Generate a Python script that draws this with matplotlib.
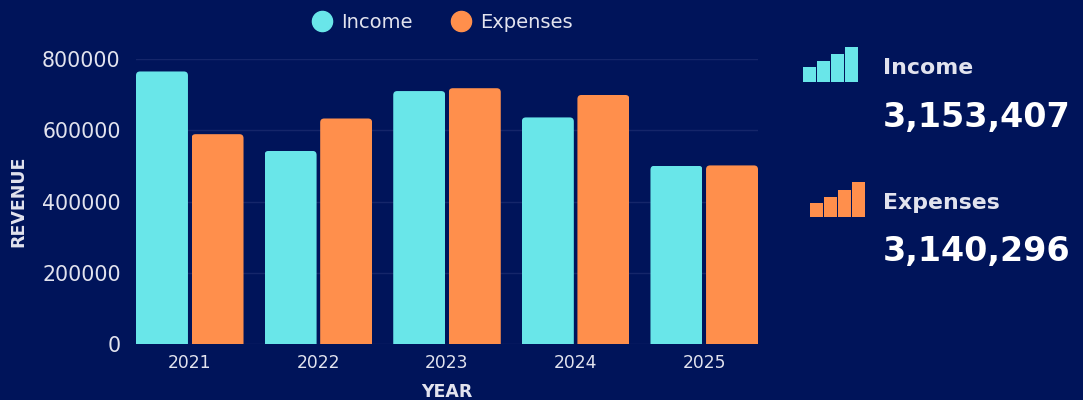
import matplotlib
matplotlib.use("Agg")
import matplotlib.pyplot as plt
from matplotlib.lines import Line2D
from matplotlib.patches import FancyBboxPatch
import numpy as np

years = ["2021", "2022", "2023", "2024", "2025"]
income = [765000, 542000, 710000, 636000, 500407]
expenses = [589000, 633000, 718000, 699000, 501296]
yticks = [0, 200000, 400000, 600000, 800000]
signal_income = [15, 21, 28, 35]
signal_expenses = [14, 20, 27, 35]
total_income = "3,153,407"
total_expenses = "3,140,296"

W, H = 1083, 400
BG = "#00145a"
TEAL = "#69e6e9"
ORANGE = "#ff8f4c"
TXT = "#e2e3ee"


def px_axes(x0, y0, x1, y1):
    # axes box given in pixels from the top left corner
    return fig.add_axes([x0 / W, 1 - y1 / H, (x1 - x0) / W, (y1 - y0) / H])


def round_tops(ax, bars, radius=4):
    # clip the bars with a rounded box, the box runs past the baseline so only the tops are rounded
    for b in bars:
        x0, y0 = ax.transData.transform((b.get_x(), 0))
        x1, y1 = ax.transData.transform((b.get_x() + b.get_width(), b.get_height()))
        box = FancyBboxPatch((x0 + radius, y0 - 20), x1 - x0 - 2 * radius, y1 - y0 + 20 - radius,
                             boxstyle="round,pad=%d,rounding_size=%d" % (radius, radius),
                             transform=None)
        b.set_clip_path(box)


fig = plt.figure(figsize=(W / 100, H / 100), dpi=100, facecolor=BG)
plt.rcParams["font.family"] = "DejaVu Sans"

ax = px_axes(136, 59, 758, 344)
ax.set_facecolor(BG)
x = np.arange(len(years))
bar_w = 0.404
off = 0.216
bars1 = ax.bar(x - off, income, bar_w, color=TEAL, zorder=3, label="Income")
bars2 = ax.bar(x + off, expenses, bar_w, color=ORANGE, zorder=3, label="Expenses")
ax.set_xlim(-off - bar_w / 2, len(years) - 1 + off + bar_w / 2)
ax.set_ylim(0, 800000)
round_tops(ax, bars1)
round_tops(ax, bars2)

ax.set_xticks(x, years)
ax.set_yticks(yticks, [str(v) for v in yticks])
ax.tick_params(axis="x", length=0, pad=7.5, labelsize=12.3, labelcolor=TXT)
ax.tick_params(axis="y", length=0, pad=11, labelsize=14.8, labelcolor=TXT)
ax.grid(axis="y", color="#15266a", linewidth=1, zorder=0)
ax.set_axisbelow(True)
for s in ax.spines.values():
    s.set_visible(False)

fig.text(18 / W, 1 - 201 / H, "REVENUE", rotation=90, color=TXT, fontsize=12.5,
         fontweight="bold", ha="center", va="center")
fig.text(447 / W, 1 - 392 / H, "YEAR", color=TXT, fontsize=12.5, fontweight="bold",
         ha="center", va="center")

handles = [Line2D([], [], marker="o", linestyle="none", color=TEAL, markersize=14.5),
           Line2D([], [], marker="o", linestyle="none", color=ORANGE, markersize=14.5)]
fig.legend(handles, ["Income", "Expenses"], loc="center", bbox_to_anchor=(441.5 / W, 1 - 22 / H),
           ncol=2, frameon=False, fontsize=14, labelcolor=TXT, handletextpad=0.38,
           columnspacing=1.9, borderpad=0, handlelength=1.2, borderaxespad=0)

# summary block on the right
fig.text(883 / W, 1 - 68 / H, "Income", color=TXT, fontsize=15.8, fontweight="bold", va="center")
fig.text(883 / W, 1 - 117 / H, total_income, color="white", fontsize=24, fontweight="bold", va="center")
fig.text(883 / W, 1 - 203 / H, "Expenses", color=TXT, fontsize=15.8, fontweight="bold", va="center")
fig.text(883 / W, 1 - 251 / H, total_expenses, color="white", fontsize=24, fontweight="bold", va="center")

icon1 = px_axes(803, 47, 858, 82)
icon1.bar(range(4), signal_income, 0.89, color=TEAL)
icon1.set_ylim(0, 35)
icon1.set_xlim(-0.445, 3.445)
icon1.axis("off")

icon2 = px_axes(810, 182, 865, 217)
icon2.bar(range(4), signal_expenses, 0.89, color=ORANGE)
icon2.set_ylim(0, 35)
icon2.set_xlim(-0.445, 3.445)
icon2.axis("off")

fig.savefig("out.png", dpi=100, facecolor=BG)
